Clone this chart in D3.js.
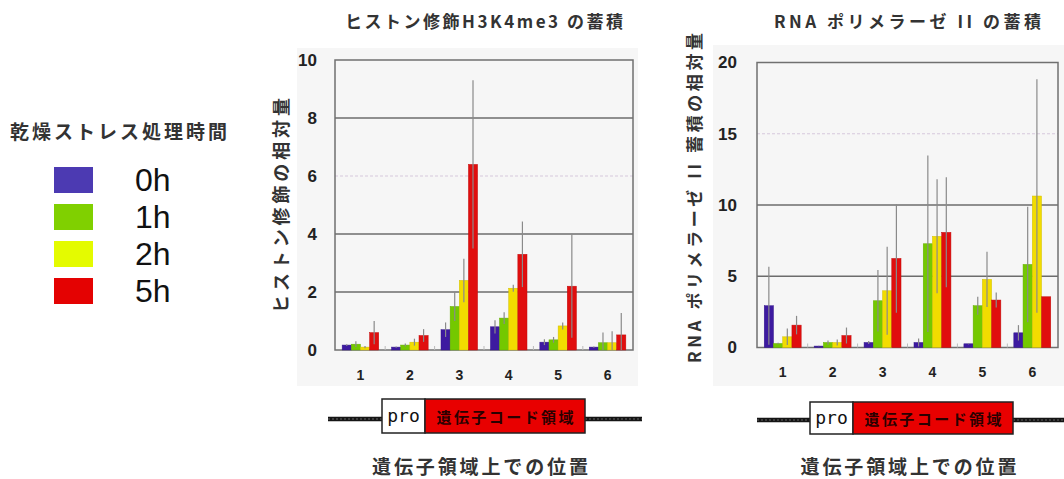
<!DOCTYPE html>
<html>
<head>
<meta charset="utf-8">
<script src="https://cdn.jsdelivr.net/npm/d3@7"></script>
<style>
  html, body { margin: 0; padding: 0; background: #fff; }
  svg { display: block; }
</style>
</head>
<body>
<script>
// Positions along the gene (primer sets 1-6) and drought-stress time points
const positions = ["1", "2", "3", "4", "5", "6"];
const timePoints = ["0h", "1h", "2h", "5h"];

// H3K4me3 accumulation (relative amount): means and error half-widths
const h3k4_0h = [0.17, 0.10, 0.70, 0.80, 0.27, 0.10];
const h3k4_1h = [0.20, 0.17, 1.50, 1.10, 0.35, 0.25];
const h3k4_2h = [0.10, 0.27, 2.40, 2.13, 0.83, 0.25];
const h3k4_5h = [0.60, 0.50, 6.40, 3.30, 2.20, 0.52];
const h3k4Err_0h = [0.03, 0.02, 0.25, 0.23, 0.10, 0.02];
const h3k4Err_1h = [0.10, 0.05, 0.50, 0.20, 0.10, 0.35];
const h3k4Err_2h = [0.04, 0.12, 0.75, 0.12, 0.12, 0.40];
const h3k4Err_5h = [0.40, 0.22, 2.90, 1.13, 1.78, 0.76];

// RNA polymerase II accumulation (relative amount): means and error half-widths
const pol_0h = [2.93, 0.10, 0.35, 0.35, 0.26, 1.03];
const pol_1h = [0.28, 0.35, 3.28, 7.28, 2.93, 5.83];
const pol_2h = [0.75, 0.35, 3.98, 7.80, 4.78, 10.63];
const pol_5h = [1.57, 0.84, 6.25, 8.08, 3.33, 3.56];
const polErr_0h = [2.74, 0.02, 0.10, 0.28, 0.04, 0.54];
const polErr_1h = [0.05, 0.15, 2.15, 6.20, 0.63, 4.05];
const polErr_2h = [0.58, 0.21, 3.09, 4.00, 1.94, 8.20];
const polErr_5h = [0.65, 0.56, 3.82, 3.86, 0.53, 0.00];

// Axis ticks
const h3k4Ticks = [0, 2, 4, 6, 8, 10];
const polTicks = [0, 5, 10, 15, 20];

// Texts
const legendTitle = "乾燥ストレス処理時間";
const h3k4Title = "ヒストン修飾H3K4me3 の蓄積";
const polTitle = "RNA ポリメラーゼ II の蓄積";
const h3k4YLabel = "ヒストン修飾の相対量";
const polYLabel = "RNA ポリメラーゼ II 蓄積の相対量";
const geneCaption = "遺伝子領域上での位置";
const promoterLabel = "pro";
const codingLabel = "遺伝子コード領域";

const barColors = ["#3d1aa0", "#74c800", "#f2dc00", "#e00e0e"];
const swatchColors = ["#4c3ab2", "#80d000", "#e4fb00", "#e40202"];
const color = d3.scaleOrdinal().domain(timePoints).range(barColors);

const JP = "'Noto Sans CJK JP', 'Noto Sans', sans-serif";
const NUM = "'Liberation Sans', Arial, sans-serif";

const svg = d3.select("body").append("svg")
  .attr("width", 1064).attr("height", 479)
  .style("background", "#fff");

// ---- Legend -------------------------------------------------------------
svg.append("text")
  .attr("x", 10).attr("y", 130)
  .attr("dominant-baseline", "central")
  .attr("font-family", JP).attr("font-weight", 700).attr("font-size", 19)
  .attr("fill", "#333")
  .attr("textLength", 217).attr("lengthAdjust", "spacing")
  .text(legendTitle);

const legend = svg.append("g").selectAll("g").data(timePoints).join("g")
  .attr("transform", (d, i) => `translate(0, ${167 + i * 37})`);
legend.append("rect")
  .attr("x", 54).attr("y", 0).attr("width", 39).attr("height", 26)
  .attr("fill", (d, i) => swatchColors[i]);
legend.append("text")
  .attr("x", 135).attr("y", 13)
  .attr("dominant-baseline", "central")
  .attr("font-family", NUM).attr("font-size", 32).attr("fill", "#111")
  .text(d => d);

// ---- Bar panels -------------------------------------------------------
function drawPanel(p) {
  const g = svg.append("g");

  g.append("rect")
    .attr("x", p.bg[0]).attr("y", p.bg[1])
    .attr("width", p.bg[2]).attr("height", p.bg[3])
    .attr("fill", "#f6f6f6");

  const x = d3.scaleBand().domain(positions).range([p.left, p.right])
    .paddingInner(0.26).paddingOuter(0.145);
  const xs = d3.scaleBand().domain(timePoints).range([0, x.bandwidth()]);
  const y = d3.scaleLinear().domain([0, p.ticks[p.ticks.length - 1]])
    .range([p.bottom, p.top]);

  // horizontal grid
  g.selectAll("line.grid")
    .data(p.ticks.slice(1, -1))
    .join("line")
    .attr("class", "grid")
    .attr("x1", p.left).attr("x2", p.right)
    .attr("y1", d => y(d)).attr("y2", d => y(d))
    .attr("stroke", d => d === p.lightTick ? "#d6c8dc" : "#6c6c6c")
    .attr("stroke-width", d => d === p.lightTick ? 1 : 1.4)
    .attr("stroke-dasharray", d => d === p.lightTick ? "3,2" : null);

  // frame
  g.append("rect")
    .attr("x", p.left).attr("y", p.top)
    .attr("width", p.right - p.left).attr("height", p.bottom - p.top)
    .attr("fill", "none").attr("stroke", "#707070").attr("stroke-width", 1.5);

  // small separators between positions on the baseline
  g.selectAll("line.sep")
    .data(positions.slice(1))
    .join("line")
    .attr("class", "sep")
    .attr("x1", d => x(d) - x.step() * x.paddingInner() / 2)
    .attr("x2", d => x(d) - x.step() * x.paddingInner() / 2)
    .attr("y1", p.bottom).attr("y2", p.bottom - 4)
    .attr("stroke", "#bbb").attr("stroke-width", 1);

  const rows = positions.flatMap((pos, i) =>
    timePoints.map((t, j) => ({ pos, t, v: p.means[j][i], e: p.errs[j][i] })));

  g.selectAll("rect.bar")
    .data(rows)
    .join("rect")
    .attr("class", "bar")
    .attr("x", d => x(d.pos) + xs(d.t))
    .attr("width", xs.bandwidth())
    .attr("y", d => y(d.v))
    .attr("height", d => y(0) - y(d.v))
    .attr("fill", d => color(d.t))
    .attr("stroke", d => d3.color(color(d.t)).darker(0.4))
    .attr("stroke-width", 0.5);

  g.selectAll("line.err")
    .data(rows.filter(d => d.e > 0))
    .join("line")
    .attr("class", "err")
    .attr("x1", d => x(d.pos) + xs(d.t) + xs.bandwidth() / 2)
    .attr("x2", d => x(d.pos) + xs(d.t) + xs.bandwidth() / 2)
    .attr("y1", d => y(d.v + d.e))
    .attr("y2", d => y(Math.max(0, d.v - d.e)))
    .attr("stroke", "#8a8a8a").attr("stroke-width", 1.2);

  // y axis labels
  g.append("g")
    .attr("transform", `translate(${p.left},0)`)
    .call(d3.axisLeft(y).tickValues(p.ticks).tickSize(0).tickPadding(p.yPad))
    .call(s => s.select(".domain").remove())
    .selectAll("text")
    .attr("font-family", NUM).attr("font-weight", 700).attr("font-size", 17)
    .attr("fill", "#222");

  // x axis labels
  g.append("g")
    .attr("transform", `translate(0,${p.bottom})`)
    .call(d3.axisBottom(x).tickSize(0).tickPadding(20))
    .call(s => s.select(".domain").remove())
    .selectAll("text")
    .attr("font-family", NUM).attr("font-weight", 700).attr("font-size", 14)
    .attr("fill", "#222");

  // title
  g.append("text")
    .attr("x", (p.left + p.right) / 2).attr("y", 20.5)
    .attr("text-anchor", "middle").attr("dominant-baseline", "central")
    .attr("font-family", JP).attr("font-weight", 700).attr("font-size", 17)
    .attr("fill", "#333")
    .attr("textLength", p.titleLen).attr("lengthAdjust", "spacing")
    .text(p.title);

  // y title
  g.append("text")
    .attr("transform", `translate(${p.yLabelX},${p.yLabelY}) rotate(-90)`)
    .attr("text-anchor", "middle").attr("dominant-baseline", "central")
    .attr("font-family", JP).attr("font-weight", 700).attr("font-size", p.yLabelSize)
    .attr("fill", "#333")
    .attr("textLength", p.yLabelLen).attr("lengthAdjust", "spacing")
    .text(p.yLabel);

  // gene schematic
  const gd = p.gene;
  const gg = g.append("g");
  [[gd.x0, gd.pro], [gd.end, gd.x1]].forEach(([a, b]) => {
    gg.append("line").attr("x1", a).attr("x2", b).attr("y1", gd.lineY).attr("y2", gd.lineY)
      .attr("stroke", "#151515").attr("stroke-width", 4.5);
    gg.append("line").attr("x1", a).attr("x2", b).attr("y1", gd.lineY).attr("y2", gd.lineY)
      .attr("stroke", "#666").attr("stroke-width", 1).attr("stroke-dasharray", "2,2");
  });
  gg.append("rect")
    .attr("x", gd.pro).attr("y", gd.top).attr("width", gd.code - gd.pro).attr("height", gd.h)
    .attr("fill", "#fff").attr("stroke", "#222").attr("stroke-width", 1.5);
  gg.append("rect")
    .attr("x", gd.code).attr("y", gd.top).attr("width", gd.end - gd.code).attr("height", gd.h)
    .attr("fill", "#e80000").attr("stroke", "#222").attr("stroke-width", 1.5);
  gg.append("text")
    .attr("x", (gd.pro + gd.code) / 2).attr("y", gd.top + gd.h / 2 - 1)
    .attr("text-anchor", "middle").attr("dominant-baseline", "central")
    .attr("font-family", "'DejaVu Sans Mono', monospace").attr("font-size", 18)
    .attr("fill", "#111")
    .text(promoterLabel);
  gg.append("text")
    .attr("x", (gd.code + gd.end) / 2).attr("y", gd.top + gd.h / 2)
    .attr("text-anchor", "middle").attr("dominant-baseline", "central")
    .attr("font-family", JP).attr("font-weight", 700).attr("font-size", 15)
    .attr("fill", "#2a0000")
    .attr("textLength", 137).attr("lengthAdjust", "spacing")
    .text(codingLabel);
  gg.append("text")
    .attr("x", gd.captionX).attr("y", 465)
    .attr("text-anchor", "middle").attr("dominant-baseline", "central")
    .attr("font-family", JP).attr("font-weight", 700).attr("font-size", 19)
    .attr("fill", "#333")
    .attr("textLength", 216).attr("lengthAdjust", "spacing")
    .text(geneCaption);
}

drawPanel({
  bg: [297, 48, 341, 338],
  left: 335, right: 633, top: 60, bottom: 350,
  ticks: h3k4Ticks, lightTick: 6, yPad: 18,
  means: [h3k4_0h, h3k4_1h, h3k4_2h, h3k4_5h],
  errs: [h3k4Err_0h, h3k4Err_1h, h3k4Err_2h, h3k4Err_5h],
  title: h3k4Title, titleLen: 278,
  yLabel: h3k4YLabel, yLabelX: 280, yLabelY: 205.5, yLabelSize: 18, yLabelLen: 215,
  gene: { x0: 328, pro: 382, code: 425, end: 585, x1: 642, lineY: 419, top: 399, h: 34, captionX: 480 }
});

drawPanel({
  bg: [713, 45, 351, 341],
  left: 757, right: 1058, top: 62.5, bottom: 347.5,
  ticks: polTicks, lightTick: 15, yPad: 20,
  means: [pol_0h, pol_1h, pol_2h, pol_5h],
  errs: [polErr_0h, polErr_1h, polErr_2h, polErr_5h],
  title: polTitle, titleLen: 267,
  yLabel: polYLabel, yLabelX: 693, yLabelY: 198, yLabelSize: 17, yLabelLen: 330,
  gene: { x0: 757, pro: 810, code: 853, end: 1013, x1: 1064, lineY: 420, top: 402, h: 32, captionX: 908.5 }
});
</script>
</body>
</html>
